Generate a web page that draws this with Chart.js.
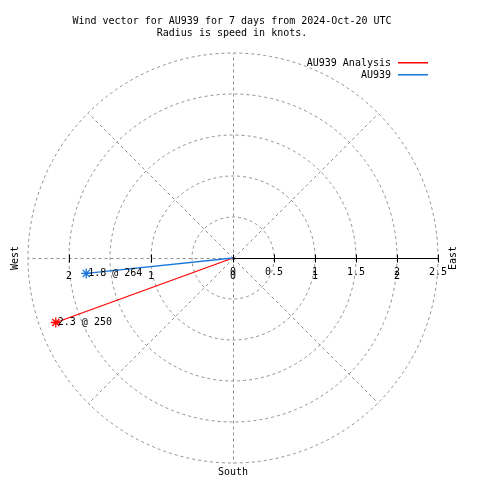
<!DOCTYPE html>
<html>
<head>
<meta charset="utf-8">
<script src="https://cdn.jsdelivr.net/npm/chart.js@4"></script>
<style>
html,body{margin:0;padding:0;background:#fff;}
canvas{display:block;}
</style>
</head>
<body>
<canvas id="c" width="480" height="480"></canvas>
<script>
// ---- data ----
const titleLines = ['Wind vector for AU939 for 7 days from 2024-Oct-20 UTC', 'Radius is speed in knots.'];
const seriesNames = ['AU939 Analysis', 'AU939'];
const speeds = [2.3, 1.8];          // knots
const directions = [250, 264];      // degrees (compass)
const seriesColors = ['#ff0000', '#1a76dc'];
const ringValues = [0.5, 1, 1.5, 2, 2.5];
const radialTicks = [0, 0.5, 1, 1.5, 2, 2.5];
const radialTickLabels = ['0', '0.5', '1', '1.5', '2', '2.5'];
const axisTicks = [-2, -1, 0, 1, 2];
const axisTickLabels = ['2', '1', '0', '1', '2'];
const spokeAngles = [0, 45, 90, 135, 180, 225, 270, 315];
const compassLabels = ['West', 'East', 'South'];
const rMax = 2.5;

const FONT = '10px "DejaVu Sans Mono"';

function toXY(speed, dir) {
  const a = dir * Math.PI / 180;
  return { x: speed * Math.sin(a), y: speed * Math.cos(a) };
}

const datasets = seriesNames.map((name, i) => ({
  label: name,
  data: [{ x: 0, y: 0 }, toXY(speeds[i], directions[i])],
  borderColor: seriesColors[i],
  backgroundColor: seriesColors[i],
  borderWidth: 1.3,
  showLine: true,
  pointStyle: 'star',
  pointRadius: [0, 5],
  pointBorderWidth: 1.3,
  order: i === 0 ? 2 : 1
}));

const polarGrid = {
  id: 'polarGrid',
  beforeDatasetsDraw(chart) {
    const ctx = chart.ctx, xs = chart.scales.x, ys = chart.scales.y;
    const cx = xs.getPixelForValue(0), cy = ys.getPixelForValue(0);
    const pr = v => xs.getPixelForValue(v) - cx;
    ctx.save();
    ctx.strokeStyle = '#909090';
    ctx.lineWidth = 1;
    ctx.setLineDash([3, 3]);
    ringValues.forEach(v => {
      ctx.beginPath();
      ctx.arc(cx, cy, pr(v), 0, Math.PI * 2);
      ctx.stroke();
    });
    spokeAngles.forEach(a => {
      if (a === 0) return; // east handled by solid axis
      const p = toXY(rMax, a + 90);
      ctx.beginPath();
      ctx.moveTo(Math.round(cx) + 0.5, Math.round(cy) + 0.5);
      const px = xs.getPixelForValue(p.x), py = ys.getPixelForValue(p.y);
      ctx.lineTo(Math.round(px) + 0.5, Math.round(py) + 0.5);
      ctx.stroke();
    });
    ctx.setLineDash([]);
    // solid axis to the east
    ctx.strokeStyle = '#000';
    const yl = Math.round(cy) + 0.5;
    ctx.beginPath();
    ctx.moveTo(cx, yl);
    ctx.lineTo(xs.getPixelForValue(rMax), yl);
    ctx.stroke();
    radialTicks.forEach(v => {
      const x = Math.round(xs.getPixelForValue(v)) + 0.5;
      ctx.beginPath(); ctx.moveTo(x, yl - 4); ctx.lineTo(x, yl + 4); ctx.stroke();
    });
    axisTicks.forEach(v => {
      if (v >= 0) return;
      const x = Math.round(xs.getPixelForValue(v)) + 0.5;
      ctx.beginPath(); ctx.moveTo(x, yl - 4); ctx.lineTo(x, yl + 4); ctx.stroke();
    });
    ctx.restore();
  },
  afterDatasetsDraw(chart) {
    const ctx = chart.ctx, xs = chart.scales.x, ys = chart.scales.y;
    const cx = xs.getPixelForValue(0), cy = ys.getPixelForValue(0);
    ctx.save();
    ctx.setLineDash([]);
    ctx.globalAlpha = 1;
    ctx.font = FONT;
    ctx.fillStyle = '#000';
    ctx.textBaseline = 'middle';
    ctx.textAlign = 'center';
    // tick labels
    radialTicks.forEach((v, i) => {
      ctx.fillText(radialTickLabels[i], xs.getPixelForValue(v), cy + 14);
    });
    axisTicks.forEach((v, i) => {
      ctx.fillText(axisTickLabels[i], xs.getPixelForValue(v), cy + 18);
    });
    // titles
    ctx.fillText(titleLines[0], 232, 21);
    ctx.fillText(titleLines[1], 232, 33);
    // South
    ctx.fillText(compassLabels[2], cx, 472);
    // West / East rotated
    [[compassLabels[0], 15], [compassLabels[1], 453]].forEach(([t, x]) => {
      ctx.save();
      ctx.translate(x, cy);
      ctx.rotate(-Math.PI / 2);
      ctx.fillText(t, 0, 0);
      ctx.restore();
    });
    // legend
    ctx.textAlign = 'right';
    seriesNames.forEach((n, i) => {
      const y = 63 + i * 12;
      ctx.fillStyle = '#000';
      ctx.fillText(n, 391, y);
      ctx.fillStyle = seriesColors[i];
      ctx.fillRect(398, Math.round(y) - 1, 30, 1.5);
    });
    // point labels
    ctx.textAlign = 'left';
    ctx.fillStyle = '#000';
    seriesNames.forEach((n, i) => {
      const p = toXY(speeds[i], directions[i]);
      const px = xs.getPixelForValue(p.x), py = ys.getPixelForValue(p.y);
      ctx.fillText(speeds[i].toFixed(1) + ' @ ' + directions[i], px + 2, py);
    });
    ctx.restore();
  }
};

new Chart(document.getElementById('c'), {
  type: 'scatter',
  data: { datasets },
  options: {
    responsive: false,
    animation: false,
    layout: { padding: { left: 28, right: 42, top: 53, bottom: 17 } },
    scales: {
      x: { type: 'linear', min: -rMax, max: rMax, display: false },
      y: { type: 'linear', min: -rMax, max: rMax, display: false }
    },
    plugins: { legend: { display: false }, tooltip: { enabled: false }, title: { display: false } }
  },
  plugins: [polarGrid]
});
</script>
</body>
</html>
